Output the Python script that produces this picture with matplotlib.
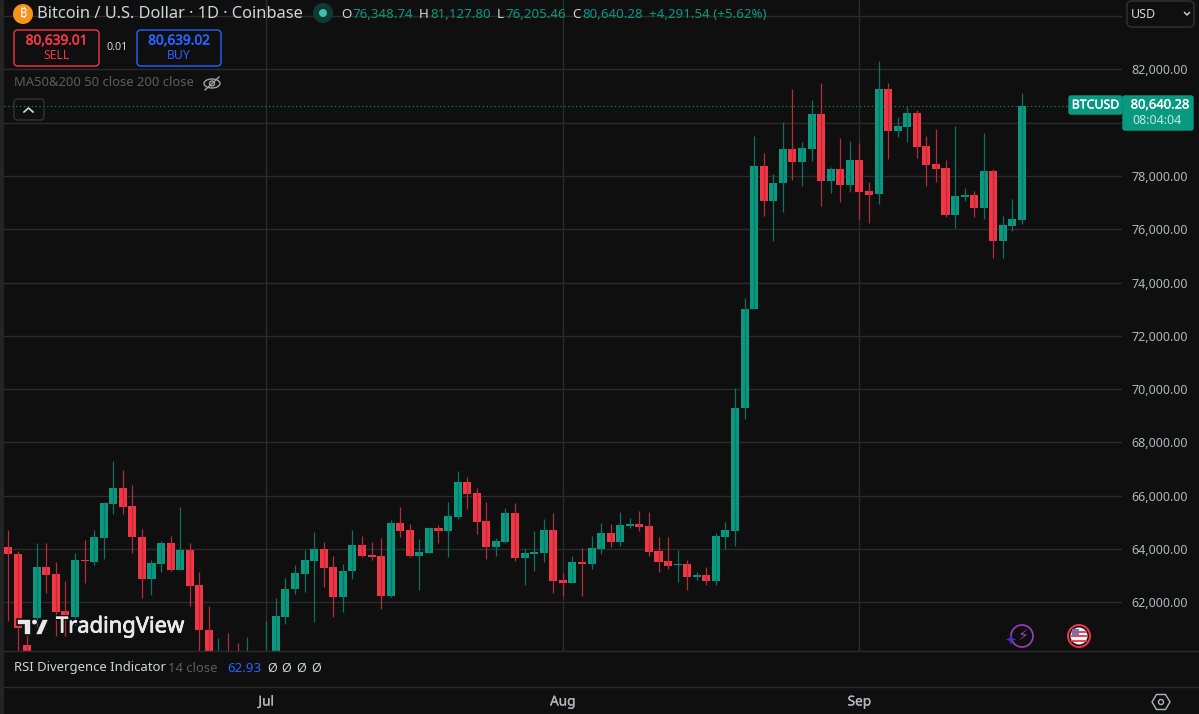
import numpy as np
import matplotlib
matplotlib.use("Agg")
import matplotlib.pyplot as plt
import matplotlib.patheffects as pe
from matplotlib.patches import Circle, Ellipse, FancyBboxPatch, Polygon, Rectangle

plt.rcParams["font.family"] = ["Noto Sans", "Inter", "Roboto", "DejaVu Sans"]

# daily candles
opens = [64065, 63825, 60400, 61413, 63326, 63064, 61687, 61439, 63600, 63514,
         64414, 65690, 66290, 65626, 64463, 62876, 63450, 64238, 63225, 63953,
         62640, 60974, 59462, 60024, 59837, 59274, 59400, 59462, 59837, 61461,
         62489, 63064, 63551, 64013, 63315, 62212, 63165, 64140, 63765, 63739,
         62238, 64977, 64714, 63739, 63863, 64789, 64666, 65202, 66515, 66103,
         65052, 64065, 64275, 65363, 63664, 63825, 63863, 64726, 62838, 62737,
         63514, 63450, 64013, 64602, 64253, 64876, 64928, 64864, 63926, 63551,
         63401, 63439, 62962, 63026, 62801, 64463, 64666, 69281, 72995, 78360,
         77058, 77723, 79010, 78522, 79010, 80323, 77820, 78259, 77659, 78597,
         77434, 77310, 81261, 79674, 79835, 80371, 79122, 78447, 78297, 76533,
         77197, 77284, 76796, 78195, 75569, 76120, 76348.74]
highs = [64714, 63926, 60850, 64238, 64215, 63514, 62801, 63863, 64339, 64714,
         65776, 67292, 66966, 66403, 64752, 63589, 64313, 64501, 65566, 64215,
         63150, 61874, 60651, 60861, 60486, 60689, 59700, 61300, 62152, 62902,
         63401, 63964, 64651, 64264, 63728, 63427, 64703, 64478, 64253, 64403,
         65078, 65566, 64940, 64377, 64816, 64913, 65754, 66928, 66703, 66290,
         65776, 64403, 65529, 65716, 64050, 64666, 65138, 65371, 63090, 63739,
         64050, 64501, 64988, 64951, 65378, 65176, 65427, 65378, 64440, 64440,
         63964, 63589, 63127, 63315, 64602, 65015, 70031, 73408, 79497, 78848,
         78060, 80023, 81272, 79261, 80848, 81497, 78345, 79411, 79298, 79223,
         77783, 82300, 81475, 80221, 80597, 80473, 79509, 79760, 78586, 79872,
         77535, 77434, 79610, 78248, 76496, 77122, 81127.80]
lows = [61311, 59837, 59462, 60962, 62362, 60737, 60737, 61150, 62737, 63401,
        63638, 65315, 65315, 63863, 62174, 62264, 63127, 63187, 63214, 61874,
        60024, 59086, 59086, 59086, 58711, 58711, 58700, 59086, 59462, 61176,
        62313, 62399, 61274, 62587, 61461, 61649, 62876, 63720, 63600, 61762,
        62201, 64440, 63701, 62452, 63852, 64238, 63701, 65116, 65502, 64564,
        63638, 63739, 64238, 63551, 62651, 63187, 63514, 62351, 62238, 62726,
        62238, 63251, 63825, 64077, 64125, 64789, 64688, 63739, 63150, 63251,
        62763, 62474, 62838, 62651, 62662, 64002, 64114, 68868, 72988, 76507,
        75558, 76657, 77846, 77621, 78571, 76871, 77370, 77021, 77407, 76372,
        76244, 76957, 78646, 79471, 79261, 78683, 77633, 77760, 76469, 76057,
        77070, 76469, 76383, 74909, 74931, 75933, 76205.46]
closes = [63803, 61026, 59837, 63326, 63026, 61649, 61439, 63578, 63540, 64440,
          65716, 66290, 65589, 64440, 62876, 63476, 64238, 63214, 63964, 62625,
          60962, 59837, 60024, 59462, 59274, 59837, 59000, 60024, 61488, 62512,
          63090, 63578, 64013, 63300, 62212, 63187, 64140, 63739, 63701, 62238,
          64977, 64688, 63739, 63889, 64789, 64666, 65240, 66515, 66065, 65015,
          64065, 64302, 65363, 63664, 63863, 63889, 64726, 62812, 62737, 63514,
          63450, 64050, 64602, 64253, 64891, 64928, 64827, 63889, 63514, 63375,
          63450, 62962, 63026, 62801, 64501, 64703, 69303, 73006, 78360, 77058,
          77745, 79010, 78522, 79036, 80323, 77820, 78259, 77659, 78597, 77396,
          77295, 81261, 79674, 79872, 80371, 79096, 78420, 78259, 76533, 77246,
          77284, 76796, 78195, 75569, 76147, 76372, 80640.28]

price_ticks = [62000, 64000, 66000, 68000, 70000, 72000, 74000, 76000, 78000, 80000, 82000, 84000]
# 80,000 sits behind the price tag and 84,000 behind the USD button
hidden_ticks = [80000, 84000]
month_pos = [27, 58, 89]
month_names = ["Jul", "Aug", "Sep"]
last_price = 80640.28

BG = "#0f0f0f"
GRID = "#2c2c2c"
GREEN = "#089981"
RED = "#f23645"
BLUE = "#2962ff"
TXT = "#d1d4dc"
DIM = "#5d5d5d"

W, H = 1199, 714
fig = plt.figure(figsize=(W / 100, H / 100), dpi=100, facecolor=BG)

# chart pane
ax = fig.add_axes([4 / W, 1 - 651 / H, (1122 - 4) / W, 651 / H], facecolor=BG)
x = np.arange(len(opens))
opens = np.array(opens)
closes = np.array(closes)
up = closes >= opens

ax.set_yticks(price_ticks)
ax.set_yticklabels(["" if p in hidden_ticks else f"{p:,.2f}" for p in price_ticks])
ax.yaxis.tick_right()
ax.set_xticks(month_pos)
ax.set_xticklabels([])
ax.grid(True, color=GRID, linewidth=1)
ax.set_axisbelow(True)
ax.tick_params(axis="both", length=0)
ax.tick_params(axis="y", colors="#b2b5be", labelsize=9, pad=7)
for s in ax.spines.values():
    s.set_visible(False)

ax.axhline(last_price, color=GREEN, linewidth=0.8, linestyle=(0, (1, 2.5)))

wick_cols = np.where(up, "#0b7264", "#b32e3c")
ax.vlines(x, lows, highs, colors=wick_cols, linewidth=0.9)
ax.bar(x, np.abs(closes - opens), bottom=np.minimum(opens, closes), width=0.84,
       color=np.where(up, GREEN, RED), linewidth=0)

ax.set_xlim(-0.418, 116.45)
ax.set_ylim(60175, 84600)

# everything around the chart, in pixel coordinates
ui = fig.add_axes([0, 0, 1, 1], facecolor="none")
ui.set_xlim(0, W)
ui.set_ylim(H, 0)
ui.axis("off")


def txt(px, py, s, color=TXT, size=9, ha="left", heavy=0, **kw):
    t = ui.text(px, py, s, color=color, fontsize=size, ha=ha, va="center", **kw)
    if heavy:
        t.set_path_effects([pe.withStroke(linewidth=heavy, foreground=color)])
    return t


def box(x0, y0, x1, y1, edge, face="none", r=4, lw=1):
    ui.add_patch(FancyBboxPatch((x0, y0), x1 - x0, y1 - y0,
                                boxstyle=f"round,pad=0,rounding_size={r}",
                                edgecolor=edge, facecolor=face, linewidth=lw))


ui.add_patch(Rectangle((0, 0), 4, H, color="#242424", linewidth=0))
ui.plot([4, W], [650.5, 650.5], color=GRID, lw=1)
ui.plot([4, W], [687, 687], color=GRID, lw=1)

# header
ui.add_patch(Circle((23, 14), 10, color="#f7931a", linewidth=0))
txt(23, 13.5, "₿", color="white", size=9, ha="center", weight="bold")
txt(37, 14, "Bitcoin / U.S. Dollar · 1D · Coinbase", size=11.8)
ui.add_patch(Circle((323, 13), 10, color="#0d3a33", linewidth=0))
ui.add_patch(Circle((323, 13), 4, color="#3fc0a8", linewidth=0))
ohlc_labels = ["O", "H", "L", "C"]
ohlc_values = ["76,348.74", "81,127.80", "76,205.46", "80,640.28"]
label_x = [341, 419, 497, 572]
value_x = [352, 430, 505, 582]
for label, value, lx, vx in zip(ohlc_labels, ohlc_values, label_x, value_x):
    txt(lx, 14, label, size=9.6)
    txt(vx, 14, value, color=GREEN, size=9.6)
txt(649, 14, "+4,291.54 (+5.62%)", color=GREEN, size=9.6)

# sell / buy
box(14, 30, 99, 66, RED)
txt(56.5, 41, "80,639.01", color=RED, size=9.8, ha="center", heavy=0.4)
txt(56.5, 55.5, "SELL", color=RED, size=8.8, ha="center")
txt(117.5, 47, "0.01", color=TXT, size=7.8, ha="center")
box(137, 30, 221, 66, BLUE)
txt(179, 41, "80,639.02", color=BLUE, size=9.8, ha="center", heavy=0.4)
txt(179, 55.5, "BUY", color=BLUE, size=8.8, ha="center")

# indicator legend
txt(14, 83, "MA50&200 50 close 200 close", color=DIM, size=9.35)
ui.add_patch(Ellipse((212, 83.5), 16, 9, edgecolor="#a0a0a0", facecolor="none", lw=1))
ui.add_patch(Circle((212, 83.5), 2.5, edgecolor="#a0a0a0", facecolor="none", lw=1))
ui.plot([205, 219], [90, 77], color="#a0a0a0", lw=1)
box(14, 99, 44, 120, "#333333", r=3)
ui.plot([24, 28.5, 33], [112, 108, 112], color="#d8d8d8", lw=1.2)

# currency button
box(1127, 1, 1194, 27, "#333333", r=5)
txt(1131, 14, "USD", color=TXT, size=9)
ui.plot([1184.5, 1187, 1189.5], [12.5, 15, 12.5], color="#d8d8d8", lw=1)

# price tags
box(1069, 96, 1122, 114, GREEN, face=GREEN, r=2)
txt(1095.5, 105, "BTCUSD", color="white", size=8.9, ha="center", heavy=0.2)
box(1123, 96, 1193, 130, GREEN, face=GREEN, r=2)
txt(1160, 105, "80,640.28", color="white", size=9.3, ha="center", heavy=0.2)
txt(1157, 120, "08:04:04", color="#c4e5df", size=9, ha="center")

# watermark
for pts in ([(17, 619), (31, 619), (31, 635), (24, 635), (24, 625), (17, 625)],
            [(42, 619), (49, 619), (42, 635), (35, 635)]):
    ui.add_patch(Polygon(pts, closed=True, facecolor="#e8e8e8", edgecolor=BG, lw=1.2))
ui.add_patch(Circle((34.5, 622), 3, facecolor="#e8e8e8", edgecolor=BG, lw=0.8))
txt(56, 627, "TradingView", color="#e8e8e8", size=15.8,
    path_effects=[pe.withStroke(linewidth=2.6, foreground=BG), pe.withStroke(linewidth=0.5, foreground="#e8e8e8")])

# rsi pane
txt(14, 668, "RSI Divergence Indicator", size=9.4)
txt(168, 668, "14 close", color=DIM, size=9.4)
txt(227, 668, "62.93", color=BLUE, size=9.6)
for px in [272, 286, 301, 316]:
    txt(px, 668, "Ø", size=9, ha="center")

# time axis
for pos, name in zip(month_pos, month_names):
    px = 8 + 9.566 * pos
    txt(px, 702, name, color="#b2b5be", size=9.8, ha="center", heavy=0.2)

# bottom right icons
ui.add_patch(Circle((1022, 636), 11, edgecolor="#9c3fbf", facecolor="none", lw=1.2))
txt(1023, 635.5, "⚡", color="#9c3fbf", size=11, ha="center", family="DejaVu Sans")
ui.add_patch(Polygon([(1011, 635), (1012.5, 638), (1016, 639.5), (1012.5, 641), (1011, 645), (1009.5, 641),
                      (1006, 639.5), (1009.5, 638)], closed=True, color="#4a2bc0", linewidth=0))
ui.add_patch(Circle((1079, 636), 11, edgecolor=RED, facecolor="none", lw=1.4))
ui.add_patch(Circle((1079, 636), 8.5, color="#f2f2f2", linewidth=0))
for yy in [631.5, 636, 640.5]:
    ui.plot([1072, 1086], [yy, yy], color="#e5475a", lw=1.4)
ui.add_patch(Rectangle((1071.5, 628.5), 7, 7, color="#4a86d8", linewidth=0))
ui.add_patch(Polygon([(1152, 702), (1156.5, 694.5), (1165.5, 694.5), (1170, 702), (1165.5, 709.5), (1156.5, 709.5)],
                     closed=True, edgecolor="#b2b5be", facecolor="none", lw=1))
ui.add_patch(Circle((1161, 702), 2.5, edgecolor="#b2b5be", facecolor="none", lw=1))

fig.savefig("out.png", dpi=100, facecolor=BG)
